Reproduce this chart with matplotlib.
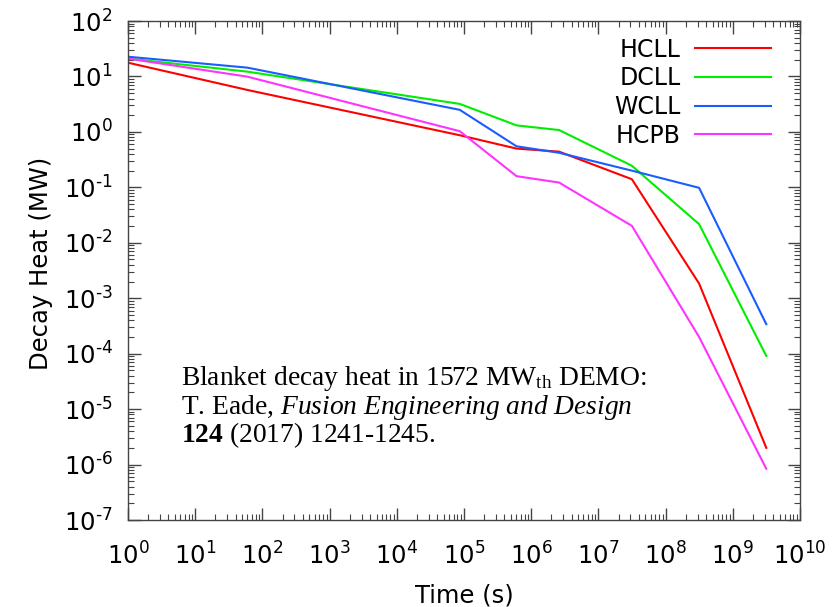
import matplotlib
matplotlib.use("Agg")
import math
import matplotlib.pyplot as plt
from matplotlib.ticker import LogLocator, NullFormatter, FuncFormatter

plt.rcParams['mathtext.rm'] = 'Liberation Serif'
plt.rcParams['mathtext.it'] = 'Liberation Serif:italic'
plt.rcParams['mathtext.bf'] = 'Liberation Serif:bold'

time_s = [1, 60, 86400, 604800, 2.6e6, 3.15e7, 3.15e8, 3.15e9]
series_names = ["HCLL", "DCLL", "WCLL", "HCPB"]
hcll = [17.7, 5.7, 0.87, 0.50, 0.44, 0.14, 1.84e-3, 2.0e-6]
dcll = [21.0, 12.2, 3.2, 1.31, 1.08, 0.245, 0.0217, 9.1e-5]
wcll = [22.7, 14.4, 2.5, 0.55, 0.42, 0.20, 0.098, 3.4e-4]
hcpb = [21.0, 9.9, 1.03, 0.159, 0.122, 0.0202, 2.0e-4, 8.4e-7]
colors = ["#ff0000", "#00ee00", "#1a5cff", "#ff33ff"]

fig = plt.figure(figsize=(8.32, 6.07), dpi=100)
ax = fig.add_axes([128/832, 1-520/607, 672/832, 499/607])

for name, vals, c in zip(series_names, [hcll, dcll, wcll, hcpb], colors):
    ax.plot(time_s, vals, color=c, lw=1.5, label=name)

ax.set_xscale('log')
ax.set_yscale('log')
ax.set_xlim(1, 1e10)
ax.set_ylim(1e-7, 1e2)
ax.xaxis.set_major_locator(LogLocator(base=10, numticks=20))
ax.yaxis.set_major_locator(LogLocator(base=10, numticks=20))
ax.xaxis.set_minor_locator(LogLocator(base=10, subs=range(2, 10), numticks=50))
ax.yaxis.set_minor_locator(LogLocator(base=10, subs=range(2, 10), numticks=50))
ax.xaxis.set_minor_formatter(NullFormatter())
ax.yaxis.set_minor_formatter(NullFormatter())


def pow_fmt(v, pos):
    e = int(round(math.log10(v)))
    s = str(e).replace('-', '\u2010')
    return r"$10^{%s}$" % s


ax.xaxis.set_major_formatter(FuncFormatter(pow_fmt))
ax.yaxis.set_major_formatter(FuncFormatter(pow_fmt))

for s in ax.spines.values():
    s.set_color('#444444')
    s.set_linewidth(1.0)
ax.tick_params(which='both', direction='in', top=True, right=True, color='#444444')
ax.tick_params(which='major', length=9, width=1.0, labelsize=17.5)
ax.tick_params(axis='x', which='major', pad=16)
ax.tick_params(axis='y', which='major', pad=11)
ax.tick_params(which='minor', length=4.5, width=0.8)

ax.set_xlabel("Time (s)", fontsize=17.5, labelpad=10)
ax.set_ylabel("Decay Heat (MW)", fontsize=17.5, labelpad=8)
ax.yaxis.label.set_y(0.515)

leg = ax.legend(loc='upper right', frameon=False, fontsize=17, markerfirst=False,
                handlelength=3.2, handletextpad=0.6, labelspacing=0.2,
                borderaxespad=0.3, bbox_to_anchor=(0.9807, 1.0))
for t in leg.get_texts():
    t.set_ha('right')

fs = 19.8
fig.text(181/832, 1-385/607, r"Blanket decay heat in 1572 MW$_{\mathrm{th}}$ DEMO:",
         family='Liberation Serif', fontsize=fs, va='baseline', math_fontfamily='custom')
fig.text(181/832, 1-413.5/607, r"T. Eade, $\mathit{Fusion\ Engineering\ and\ Design}$",
         family='Liberation Serif', fontsize=fs, va='baseline', math_fontfamily='custom')
fig.text(181/832, 1-442/607, r"$\mathbf{124}$ (2017) 1241-1245.",
         family='Liberation Serif', fontsize=fs, va='baseline', math_fontfamily='custom')

fig.savefig("out.png", dpi=100)
